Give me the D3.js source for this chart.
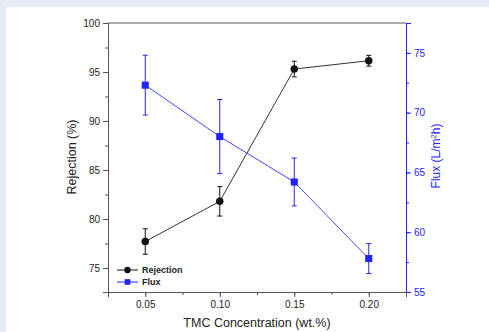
<!DOCTYPE html>
<html>
<head>
<meta charset="utf-8">
<script src="https://cdn.jsdelivr.net/npm/d3@7"></script>
<style>
  html, body { margin: 0; padding: 0; background: #e6eaf5; }
  #vis { position: absolute; left: 6px; top: 7px; width: 483px; height: 325px; background: #fff; }
  svg { position: absolute; left: 0; top: 0; }
</style>
</head>
<body>
<div id="vis"></div>
<script>
// data
var conc = [0.05, 0.10, 0.15, 0.20];
var rejection = [77.7, 81.8, 95.3, 96.15];
var rejectionErr = [1.3, 1.5, 0.8, 0.55];
var flux = [72.3, 68.0, 64.2, 57.8];
var fluxErr = [2.5, 3.1, 2.0, 1.25];

var xTicks = [0.05, 0.10, 0.15, 0.20];
var leftTicks = [75, 80, 85, 90, 95, 100];
var rightTicks = [55, 60, 65, 70, 75];

var W = 489, H = 332;
var margin = {top: 23, right: 83, bottom: 40, left: 108};
var blue = "#2222ff", axisGray = "#555";

var svg = d3.select("body").append("svg")
    .attr("width", W).attr("height", H)
    .attr("font-family", "'Liberation Sans', Arial, sans-serif");

var x = d3.scaleLinear().domain([0.025, 0.225]).range([margin.left, W - margin.right]);
var yL = d3.scaleLinear().domain([72.55, 100]).range([H - margin.bottom, margin.top]);
var yR = d3.scaleLinear().domain([55, 77.5]).range([H - margin.bottom, margin.top]);

// minor ticks
function minor(scale, step) {
  var d = scale.domain(), out = [];
  for (var v = Math.ceil(d[0] / step) * step; v <= d[1] + 1e-9; v += step) out.push(+v.toFixed(4));
  return out;
}

// bottom axis
var gx = svg.append("g").attr("transform", `translate(0,${H - margin.bottom})`);
gx.call(d3.axisBottom(x).tickValues(minor(x, 0.025)).tickSize(3).tickFormat(""));
gx.call(g => g.append("g").call(d3.axisBottom(x).tickValues(xTicks).tickSize(5).tickFormat(d3.format(".2f"))));
gx.selectAll("path, line").attr("stroke", axisGray);
gx.selectAll("text").attr("font-size", 10).attr("fill", "#222").attr("dy", "0.8em");

// left axis
var gl = svg.append("g").attr("transform", `translate(${margin.left},0)`);
gl.call(d3.axisLeft(yL).tickValues(minor(yL, 2.5)).tickSize(3).tickFormat(""));
gl.call(g => g.append("g").call(d3.axisLeft(yL).tickValues(leftTicks).tickSize(5)));
gl.selectAll("path, line").attr("stroke", axisGray);
gl.selectAll("text").attr("font-size", 10).attr("fill", "#222");

// top border
svg.append("line")
    .attr("x1", margin.left).attr("x2", W - margin.right)
    .attr("y1", margin.top).attr("y2", margin.top)
    .attr("stroke", axisGray);

// right axis
var gr = svg.append("g").attr("transform", `translate(${W - margin.right},0)`);
gr.call(d3.axisRight(yR).tickValues(minor(yR, 2.5)).tickSize(3).tickFormat(""));
gr.call(g => g.append("g").call(d3.axisRight(yR).tickValues(rightTicks).tickSize(5)));
gr.selectAll("path, line").attr("stroke", blue);
gr.selectAll("text").attr("font-size", 10).attr("fill", blue);

// series
var rej = conc.map((c, i) => ({x: c, y: rejection[i], e: rejectionErr[i]}));
var flx = conc.map((c, i) => ({x: c, y: flux[i], e: fluxErr[i]}));

function series(data, yScale, color, lineColor, shape) {
  var g = svg.append("g");
  g.append("path").datum(data)
      .attr("fill", "none").attr("stroke", lineColor).attr("stroke-width", 1)
      .attr("d", d3.line().x(d => x(d.x)).y(d => yScale(d.y)));
  var eb = g.selectAll(".eb").data(data).join("g").attr("stroke", color).attr("stroke-width", 1);
  eb.append("line").attr("x1", d => x(d.x)).attr("x2", d => x(d.x))
      .attr("y1", d => yScale(d.y - d.e)).attr("y2", d => yScale(d.y + d.e));
  eb.append("line").attr("x1", d => x(d.x) - 2.5).attr("x2", d => x(d.x) + 2.5)
      .attr("y1", d => yScale(d.y - d.e)).attr("y2", d => yScale(d.y - d.e));
  eb.append("line").attr("x1", d => x(d.x) - 2.5).attr("x2", d => x(d.x) + 2.5)
      .attr("y1", d => yScale(d.y + d.e)).attr("y2", d => yScale(d.y + d.e));
  g.selectAll(".m").data(data).join("path")
      .attr("transform", d => `translate(${x(d.x)},${yScale(d.y)})`)
      .attr("d", d3.symbol().type(shape).size(shape === d3.symbolCircle ? 44 : 50))
      .attr("fill", color);
}

series(rej, yL, "#111", "#333", d3.symbolCircle);
series(flx, yR, blue, "#4444ff", d3.symbolSquare);

// legend
var legend = [{name: "Rejection", color: "#111", shape: d3.symbolCircle},
              {name: "Flux", color: blue, shape: d3.symbolSquare}];
var lg = svg.append("g").selectAll("g").data(legend).join("g")
    .attr("transform", (d, i) => `translate(117,${270 + i * 12})`);
lg.append("line").attr("x1", 0).attr("x2", 21).attr("stroke", d => d.color);
lg.append("path").attr("transform", "translate(10.5,0)")
    .attr("d", d => d3.symbol().type(d.shape).size(32)()).attr("fill", d => d.color);
lg.append("text").attr("x", 25).attr("dy", "0.35em")
    .attr("font-size", 9).attr("font-weight", "bold").attr("fill", "#222")
    .text(d => d.name);

// axis titles
svg.append("text")
    .attr("transform", "translate(76,157) rotate(-90)")
    .attr("text-anchor", "middle").attr("font-size", 12.5).attr("fill", "#222")
    .text("Rejection (%)");

var ft = svg.append("text")
    .attr("transform", "translate(440,156) rotate(-90)")
    .attr("text-anchor", "middle").attr("font-size", 12).attr("fill", blue);
ft.append("tspan").text("Flux (L/m");
ft.append("tspan").attr("font-size", 7.5).attr("dy", -4).text("2");
ft.append("tspan").attr("dy", 4).text("h)");

svg.append("text")
    .attr("x", 257).attr("y", 327)
    .attr("text-anchor", "middle").attr("font-size", 12.5).attr("fill", "#222")
    .text("TMC Concentration (wt.%)");
</script>
</body>
</html>
